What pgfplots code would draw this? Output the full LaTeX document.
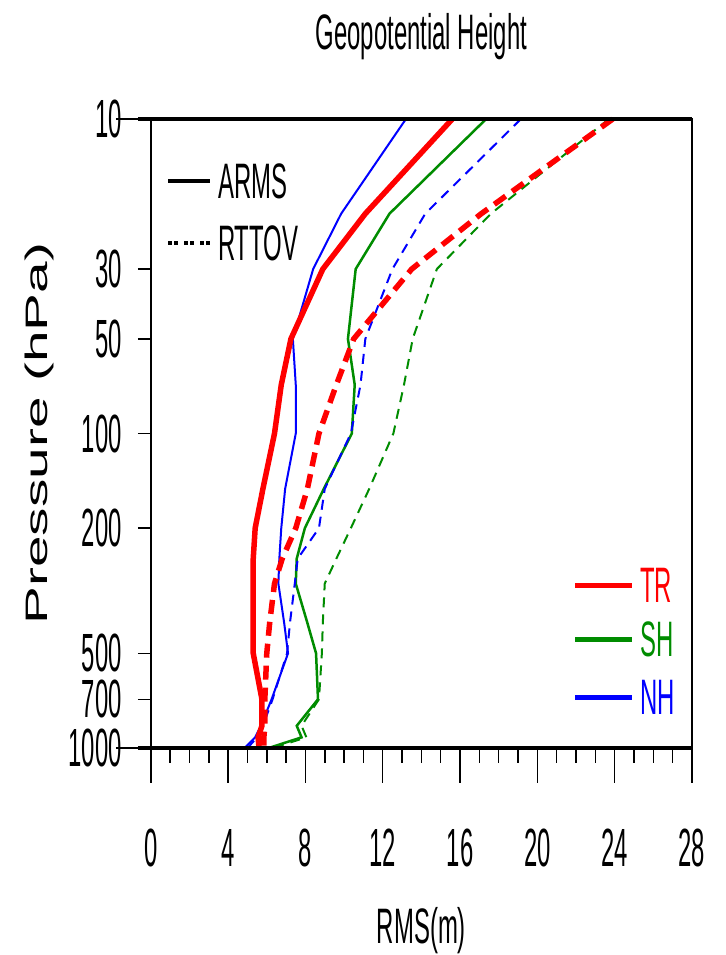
\documentclass[border=0pt]{standalone}
\usepackage{pgfplots}
\pgfplotsset{compat=1.18}
\usepackage{fontspec}
\setmainfont{Liberation Sans}[FakeStretch=0.48]
\newfontfamily\tickfont{Liberation Sans}[FakeStretch=0.444]
\newfontfamily\ylabfont{Liberation Sans}
\definecolor{ngreen}{RGB}{0,140,0}
\newcommand{\lf}{\fontsize{50}{60}\selectfont}
\newcommand{\tf}{\tickfont\fontsize{54}{64}\selectfont}
\begin{document}
\begin{tikzpicture}
\useasboundingbox (-150.8bp,-207bp) rectangle (575.2bp,748bp);
\begin{axis}[scale only axis, width=541.2bp, height=629bp, xmin=0, xmax=28,
  ymode=log, ymin=10, ymax=1000, y dir=reverse, clip=false, tick align=outside,
  axis line style={line width=1.5bp},
  ytick={10,1000}, yticklabels={,}, 
  xtick={0,4,...,28}, xticklabels={0,4,8,12,16,20,24,28},
  minor x tick num=3, xtick pos=left, ytick pos=left, major tick length=35bp, minor tick length=15bp,
  major tick style={black, line width=1.5bp}, minor tick style={black, line width=1.5bp},
  xticklabel style={font=\tf, anchor=north, inner sep=0pt, yshift=-46bp}]
% SH RTTOV
\addplot[ngreen, line width=2bp, dash pattern=on 10bp off 7bp] coordinates {
(23.7,10) (17.6,20) (14.8,30) (13.55,50) (13.1,70) (12.55,100) (11.3,150) (10.35,200)
(9.6,250) (9.0,300) (8.9,400) (8.85,500) (8.7,700) (7.8,850) (8.05,925) (6.3,1000)};
% SH ARMS
\addplot[ngreen, line width=2.5bp] coordinates {
(17.35,10) (12.35,20) (10.6,30) (10.2,50) (10.55,70) (10.4,100) (8.95,150) (7.97,200)
(7.55,250) (7.5,300) (8.1,400) (8.55,500) (8.65,700) (7.55,850) (7.8,925) (6.1,1000)};
% NH RTTOV
\addplot[blue, line width=2bp, dash pattern=on 10bp off 7bp] coordinates {
(19.15,10) (14.2,20) (12.5,30) (11.1,50) (10.85,70) (10.35,100) (9.0,150) (8.7,200)
(7.6,250) (7.45,300) (7.2,400) (7.05,500) (6.3,700) (5.8,850) (5.5,925) (5.0,1000)};
% NH ARMS
\addplot[blue, line width=2bp] coordinates {
(13.2,10) (9.85,20) (8.4,30) (7.35,50) (7.5,70) (7.5,100) (6.95,150) (6.75,200)
(6.65,250) (6.6,300) (6.9,400) (7.1,500) (6.25,700) (5.7,850) (5.4,925) (4.85,1000)};
% TR RTTOV
\addplot[red, line width=5.5bp, dash pattern=on 14bp off 8bp] coordinates {
(23.9,10) (17.1,20) (13.5,30) (10.5,50) (9.6,70) (8.7,100) (8.1,150) (7.5,200)
(6.8,250) (6.4,300) (6.15,400) (6.0,500) (5.9,700) (5.9,850) (5.85,925) (5.85,1000)};
% TR ARMS
\addplot[red, line width=5.5bp] coordinates {
(15.6,10) (11.1,20) (8.9,30) (7.25,50) (6.75,70) (6.4,100) (5.8,150) (5.4,200)
(5.3,250) (5.3,300) (5.3,400) (5.3,500) (5.75,700) (5.75,850) (5.55,925) (5.6,1000)};
% thick top and bottom lines
\draw[line width=4bp] ([xshift=-13bp]axis description cs:0,1) -- (axis description cs:1,1);
\draw[line width=4bp] ([xshift=-13bp]axis description cs:0,0) -- (axis description cs:1,0);
% title and labels
\node[anchor=base, inner sep=0pt, font=\lf] at ([yshift=69bp]axis description cs:0.5,1) {Geopotential Height};
\node[anchor=base, inner sep=0pt, font=\lf] at ([yshift=-195bp]axis description cs:0.5,0) {RMS(m)};
\node[rotate=90, inner sep=0pt] at ([xshift=-111bp]axis description cs:0,0.5) {\scalebox{1}[0.547]{\ylabfont\fontsize{57}{66}\selectfont Pressure (hPa)}};
% line-style legend
\draw[line width=4.5bp] (axis description cs:0.0318,0.9014) -- (axis description cs:0.1094,0.9014);
\node[anchor=west, inner sep=0pt, font=\lf] at (axis description cs:0.124,0.9014) {ARMS};
\draw[line width=4bp, dash pattern=on 4bp off 2bp on 4bp off 6bp] (axis description cs:0.0318,0.8029) -- (axis description cs:0.1094,0.8029);
\node[anchor=west, inner sep=0pt, font=\lf] at (axis description cs:0.124,0.8029) {RTTOV};
% region legend
\draw[red, line width=5bp] (axis description cs:0.784,0.2591) -- (axis description cs:0.889,0.2591);
\node[red, anchor=west, inner sep=0pt, font=\lf] at (axis description cs:0.904,0.2591) {TR};
\draw[ngreen, line width=5bp] (axis description cs:0.784,0.1733) -- (axis description cs:0.889,0.1733);
\node[ngreen, anchor=west, inner sep=0pt, font=\lf] at (axis description cs:0.904,0.1733) {SH};
\draw[blue, line width=5bp] (axis description cs:0.784,0.0811) -- (axis description cs:0.889,0.0811);
\node[blue, anchor=west, inner sep=0pt, font=\lf] at (axis description cs:0.904,0.0811) {NH};
\end{axis}
\begin{axis}[scale only axis, width=541.2bp, height=629bp, xmin=0, xmax=28,
  ymode=log, ymin=10, ymax=1000, y dir=reverse, tick align=outside,
  hide x axis, axis y line*=left, axis line style={line width=1.5bp},
  ytick={10,30,50,100,200,500,700,1000},
  yticklabels={10,30,50,100,200,500,700,1000}, major tick length=13bp,
  major tick style={black, line width=1.5bp},
  yticklabel style={font=\tf, anchor=east, inner sep=0pt, xshift=-16bp}]
\end{axis}
\end{tikzpicture}
\end{document}
